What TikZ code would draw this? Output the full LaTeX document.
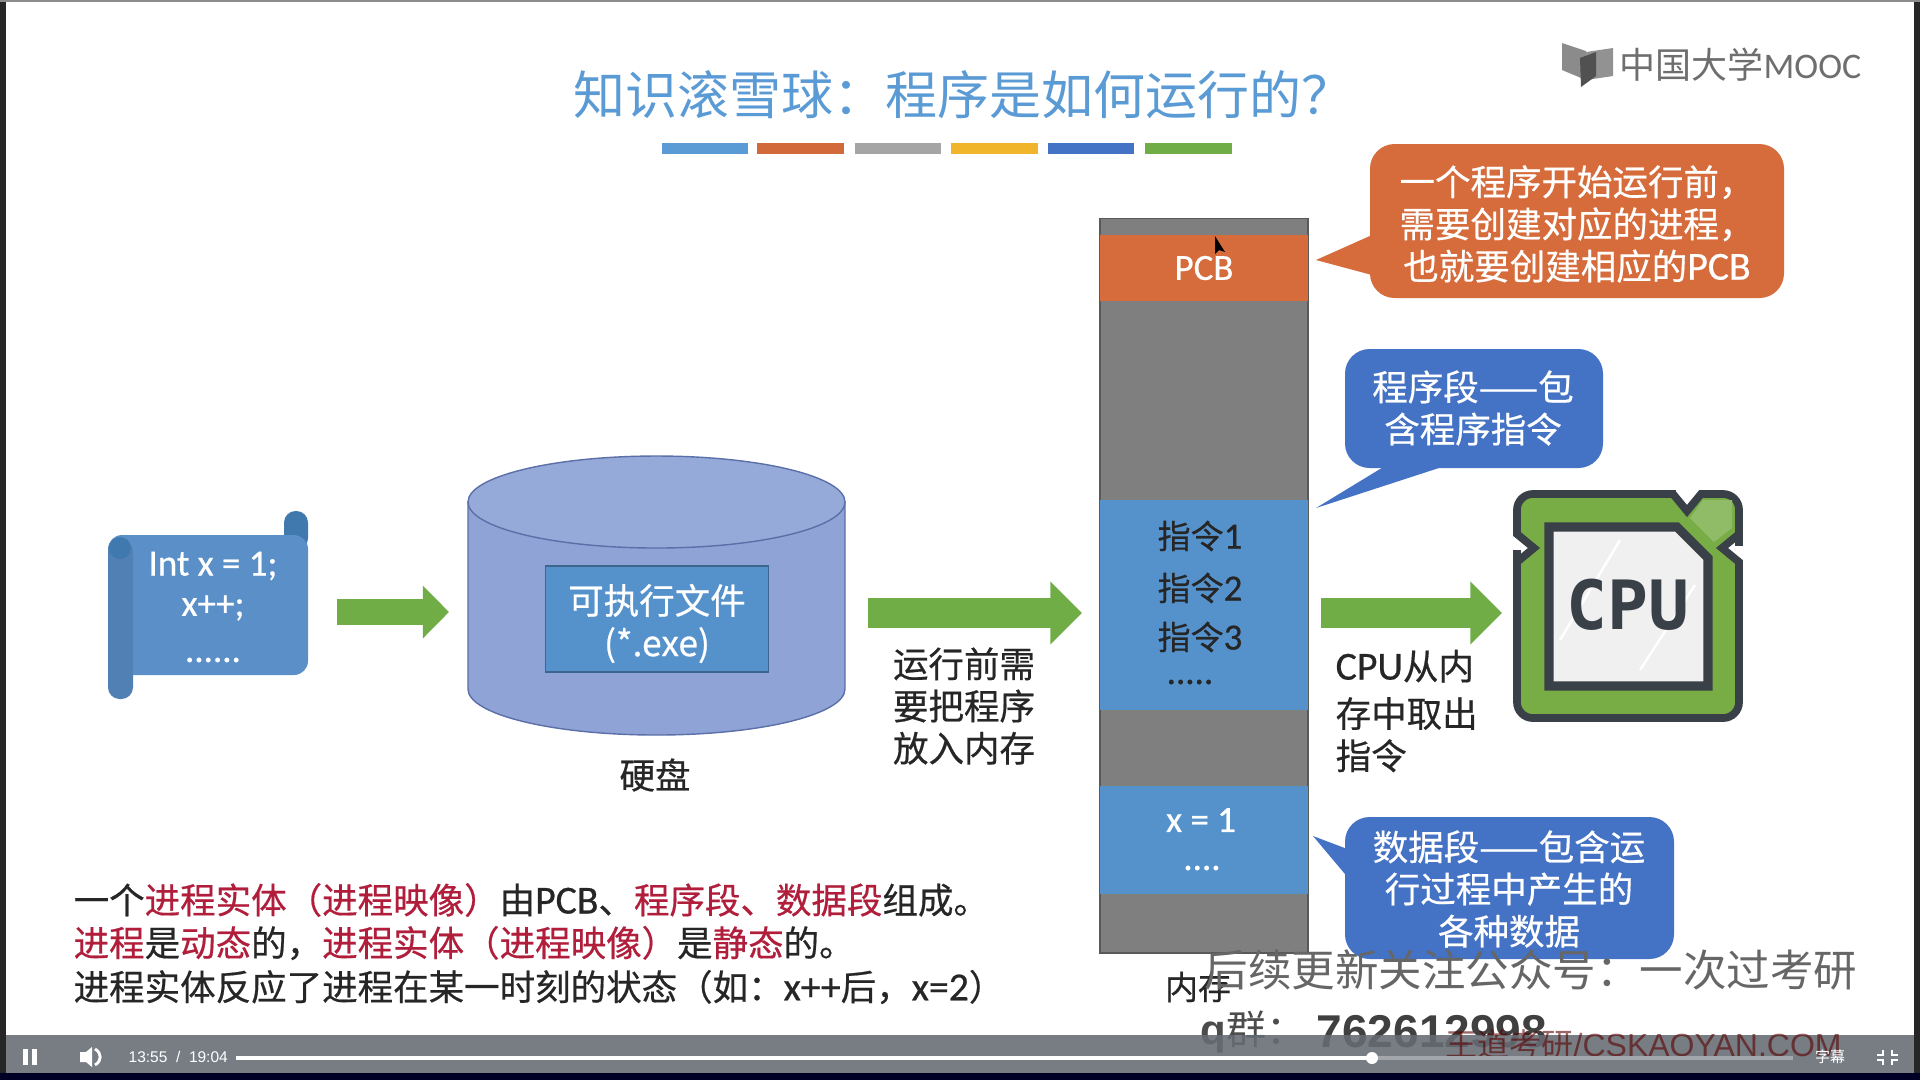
\documentclass[tikz,border=0pt]{standalone}
\usepackage{fontspec}
\usetikzlibrary{arrows.meta,shapes.geometric,calc}
\setmainfont{Noto Sans CJK SC}[FakeBold=0.5]
\newfontfamily\plainf{Noto Sans CJK SC}
\newfontfamily\latinf{Liberation Sans}
\newfontfamily\cl{Carlito}[Scale=1.12,FakeBold=0.6]
\newfontfamily\cpuf{DejaVu Sans Mono}
\newcommand{\fz}[1]{\fontsize{\the\dimexpr #1\dimexpr 0.2845pt\relax\relax}{\the\dimexpr #1\dimexpr 0.335pt\relax\relax}\selectfont}
\definecolor{tblue}{HTML}{5B9BD5}
\definecolor{barblue}{HTML}{5B9BD5}
\definecolor{barorange}{HTML}{D2693A}
\definecolor{bargray}{HTML}{A5A5A5}
\definecolor{baryellow}{HTML}{F0B52A}
\definecolor{bardblue}{HTML}{4472C4}
\definecolor{bargreen}{HTML}{70AD47}
\definecolor{memgray}{HTML}{7F7F7F}
\definecolor{memblue}{HTML}{5592CC}
\definecolor{calorange}{HTML}{D66C3C}
\definecolor{calblue}{HTML}{4472C4}
\definecolor{cyl}{HTML}{8FA3D6}
\definecolor{cyltop}{HTML}{96AADA}
\definecolor{cyledge}{HTML}{5B6FA8}
\definecolor{scroll}{HTML}{5A8FC8}
\definecolor{scrolld}{HTML}{3F79AE}
\definecolor{cpudark}{HTML}{3A4048}
\definecolor{cpugreen}{HTML}{78AC45}
\definecolor{playerbar}{HTML}{666C74}
\definecolor{redtxt}{HTML}{B01E3C}
\definecolor{logo}{HTML}{6E6E6E}
\tikzset{
 x=0.1mm,y=-0.1mm,
 lab/.style={inner sep=0pt,align=center,text=black!85},
 wlab/.style={inner sep=0pt,align=center,text=white},
 callout/.style={rounded corners=7pt,draw=none},
 membox/.style={draw=memgray!70!black,line width=0.4pt},
}
\begin{document}
\begin{tikzpicture}
\useasboundingbox (0,0) rectangle (1920,1080);
\fill[white] (0,0) rectangle (1920,1080);
% frame edges
\fill[black!85] (0,0) rectangle (6,1080);
\fill[black!85] (1914,0) rectangle (1920,1080);
\fill[black!45] (0,0) rectangle (1920,2);
% title
\node[inner sep=0pt,text=tblue,anchor=west] (title) at (573,95) {\plainf\fz{52}知识滚雪球：程序是如何运行的？};
\fill[barblue]   (662,143) rectangle (748,154);
\fill[barorange] (757,143) rectangle (844,154);
\fill[bargray]   (855,143) rectangle (941,154);
\fill[baryellow] (951,143) rectangle (1038,154);
\fill[bardblue]  (1048,143) rectangle (1134,154);
\fill[bargreen]  (1145,143) rectangle (1232,154);
% logo
\fill[logo!80] (1562,43) -- (1586,51) -- (1586,80) -- (1562,70) -- cycle;
\fill[logo!75] (1586,52) -- (1613,48) -- (1613,76) -- (1586,80) -- cycle;
\fill[logo!120] (1580,58) -- (1596,52) -- (1596,76) -- (1581,87) -- cycle;
\node[inner sep=0pt,anchor=west,text=logo] (logotext) at (1619,65) {\plainf\fz{36}中国大学{\fontspec{Carlito}\fz{36}MOOC}};
% scroll
\fill[scrolld,rounded corners=3.3pt] (284,511) rectangle (308,550);
\fill[scroll,rounded corners=4pt] (108,535) rectangle (308,675);
\fill[scroll!90!black,rounded corners=3.3pt] (108,540) rectangle (133,699);
\fill[scrolld] (120,548) circle (11);
\node[wlab] (code1) at (213,566) {\cl\fz{33}Int x = 1;};
\node[wlab] (code2) at (213,608) {\cl\fz{33}x++;};
\node[wlab] (code3) at (213,660) {\cl\fz{33}......};
% cylinder
\fill[cyl,draw=cyledge,line width=0.4pt] (468,502) -- (468,689) .. controls (468,714.4) and (552.4,735) .. (656.5,735) .. controls (760.6,735) and (845,714.4) .. (845,689) -- (845,502) -- cycle;
\fill[cyltop,draw=cyledge,line width=0.4pt] (656.5,502) ellipse (188.5 and 46);
\node[fill=memblue,draw=memblue!70!black,line width=0.4pt,minimum width=63.5pt,minimum height=30.2pt,inner sep=0pt,wlab] (exe) at (657,619) {\fz{35.5}\rule{0pt}{1.1em}可执行文件\\\fz{35.5}(*.exe)};
\node[lab] (disk) at (655,775) {\fz{35.5}硬盘};
% memory
\node[fill=memgray,membox,minimum width=59.2pt,minimum height=209pt,inner sep=0pt] (mem) at (1204,585.5) {};
\node[fill=calorange,minimum width=59.2pt,minimum height=18.8pt,inner sep=0pt,text=white] (pcb) at (1204,268) {\cl\fz{33}PCB};
\node[fill=memblue,minimum width=59.2pt,minimum height=59.7pt,inner sep=0pt] (instr) at (1204,605) {};
\node[fill=memblue,minimum width=59.2pt,minimum height=30.7pt,inner sep=0pt] (data) at (1204,840) {};
\node[lab] (i1) at (1200,536) {\fz{33}指令{\cl 1}};
\node[lab] (i2) at (1200,588) {\fz{33}指令{\cl 2}};
\node[lab] (i3) at (1200,637) {\fz{33}指令{\cl 3}};
\node[lab] (i4) at (1190,682) {\cl\fz{33}.....};
\node[wlab] (d1) at (1201,820) {\cl\fz{33}x = 1};
\node[wlab] (d2) at (1202,868) {\cl\fz{33}....};
\node[lab] (memlab) at (1198,987) {\fz{33}内存};
% arrows
\coordinate (a1s) at (337,612); \coordinate (a1e) at (449,612);
\coordinate (a2s) at (868,613); \coordinate (a2e) at (1082,613);
\coordinate (a3s) at (1321,613); \coordinate (a3e) at (1502,613);
\draw[bargreen,line width=7.6pt,-{Triangle[length=7.4pt,width=14.5pt]}] (a1s) -- (a1e);
\draw[bargreen,line width=8.7pt,-{Triangle[length=9pt,width=17.4pt]}] (a2s) -- (a2e);
\draw[bargreen,line width=8.7pt,-{Triangle[length=9pt,width=17.4pt]}] (a3s) -- (a3e);
% arrow labels
\node[lab] (run) at (964,706) {\fz{35.5}运行前需\\\fz{35.5}要把程序\\\fz{35.5}放入内存};
\node[lab,align=left,anchor=west] (fetch) at (1335,711) {\fz{35.5}{\cl CPU}从内\\[1.5pt]\fz{35.5}存中取出\\\fz{35.5}指令};
% callouts
\fill[calorange] (1316,260) -- (1372,235) -- (1372,275) -- cycle;
\fill[calorange,callout] (1370,144) rectangle (1784,298);
\node[wlab] (c1) at (1577,224) {\fz{35.5}一个程序开始运行前，\\\fz{35.5}需要创建对应的进程，\\\fz{35.5}也就要创建相应的{\cl PCB}};
\fill[calblue] (1316,508) -- (1385,466) -- (1445,466) -- cycle;
\fill[calblue,callout] (1345,349) rectangle (1603,468);
\node[wlab] (c2) at (1473,408) {\fz{35.5}程序段——包\\\fz{35.5}含程序指令};
\fill[calblue] (1313,836) -- (1350,850) -- (1350,880) -- cycle;
\fill[calblue,callout] (1345,817) rectangle (1674,959);
\node[wlab] (c3) at (1509,889) {\fz{35.5}数据段——包含运\\\fz{35.5}行过程中产生的\\\fz{35.5}各种数据};
% cpu
\draw[cpudark,line width=2.2pt,fill=cpugreen,rounded corners=4.5pt] (1517,494) -- (1660,494) [sharp corners] -- (1673,494) -- (1687,511) -- (1701,494) [rounded corners=4.5pt] -- (1739,494) -- (1739,530) [sharp corners] -- (1739,534) -- (1722,548) -- (1739,562) [rounded corners=4.5pt] -- (1739,718) -- (1517,718) -- (1517,566) [sharp corners] -- (1517,562) -- (1534,548) -- (1517,534) [rounded corners=4.5pt] -- cycle;
\fill[cpugreen!82!white] (1690,518) -- (1703,500) -- (1732,500) -- (1732,528) -- (1714,542) -- cycle;
\draw[cpudark,line width=2.6pt,fill=black!6] (1549,527) -- (1677,527) -- (1708,558) -- (1708,686) -- (1549,686) -- cycle;
\draw[white,line width=0.7pt] (1560,640) -- (1620,540) (1640,670) -- (1695,585);
\node[inner sep=0pt,text=cpudark] (cputext) at (1628,605) {\cpuf\bfseries\fz{68}CPU};
% bottom text
\node[lab,anchor=west] (t1) at (73,900) {\fz{35.5}一个{\color{redtxt}进程实体（进程映像）}由{\cl PCB}、{\color{redtxt}程序段、数据段}组成。};
\node[lab,anchor=west] (t2) at (73,943) {\fz{35.5}{\color{redtxt}进程}是{\color{redtxt}动态}的，{\color{redtxt}进程实体（进程映像）}是{\color{redtxt}静态}的。};
\node[lab,anchor=west] (t3) at (73,987) {\fz{35.5}进程实体反应了进程在某一时刻的状态（如：{\cl x++}后，{\cl x=2}）};
% cursor
\fill[black] (1215,236) -- (1215,254) -- (1219,250) -- (1225,252) -- cycle;
% watermarks
\node[inner sep=0pt,anchor=west,text=black!60] (wm1) at (1204,970) {\plainf\fz{43.5}后续更新关注公众号：一次过考研};
\node[inner sep=0pt,anchor=west,text=black!70] (wm2) at (1200,1032) {{\latinf\bfseries\fz{42}q}\plainf\fz{40}群：};
\node[inner sep=0pt,anchor=west,text=black!75] (wm3) at (1316,1032) {\latinf\bfseries\fz{46}762612998};
% player bar
\fill[playerbar,fill opacity=0.88] (6,1035) rectangle (1914,1073);
\fill[black!85!blue] (0,1073) rectangle (1920,1080);
\node[inner sep=0pt,anchor=west,text=black!65!red,opacity=0.6] (wm4) at (1445,1044) {\plainf\fz{32}王道考研{\latinf /CSKAOYAN.COM}};
\fill[white] (23,1049) rectangle (28,1065);
\fill[white] (32,1049) rectangle (37,1065);
\fill[white] (80,1052) -- (86,1052) -- (92,1047) -- (92,1067) -- (86,1062) -- (80,1062) -- cycle;
\draw[white,line width=0.8pt] (95,1049) .. controls (102,1053) and (102,1061) .. (95,1065);
\node[inner sep=0pt,anchor=west,text=white] (time) at (128,1057) {\latinf\fz{15.5}13:55\ \ /\ \ 19:04};
\draw[white!40!playerbar,line width=1pt] (1372,1058) -- (1793,1058);
\draw[white,line width=1.3pt] (236,1058) -- (1372,1058);
\fill[white] (1372,1058) circle (6);
\node[inner sep=0pt,text=white] (cc) at (1830,1057) {\plainf\fz{15}字幕};
\draw[white,line width=0.8pt] (1883,1050) -- (1883,1055) -- (1877,1055) (1892,1050) -- (1892,1055) -- (1898,1055) (1883,1065) -- (1883,1060) -- (1877,1060) (1892,1065) -- (1892,1060) -- (1898,1060);
\end{tikzpicture}
\end{document}
